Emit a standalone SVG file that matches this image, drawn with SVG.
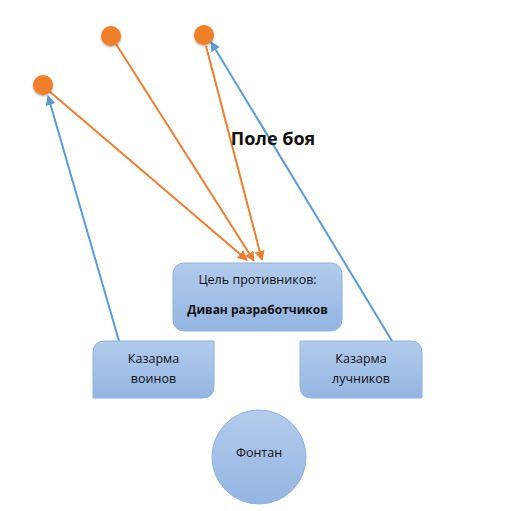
<svg xmlns="http://www.w3.org/2000/svg" width="512" height="511" viewBox="0 0 512 511">
<style>
.box{fill:url(#g);stroke:#8fb3e0;stroke-width:1}
.t{font-family:"Open Sans","Liberation Sans",sans-serif;fill:#111;text-anchor:middle}
.o{stroke:#ED7D31;stroke-width:2;fill:none}
.b{stroke:#5B9BD5;stroke-width:2;fill:none}
.dot{fill:#F07F2A;filter:url(#sh)}
</style>
<defs>
<linearGradient id="g" x1="0" y1="0" x2="0" y2="1">
<stop offset="0" stop-color="#b3cbec"/>
<stop offset="1" stop-color="#93b5e1"/>
</linearGradient>
<filter id="sh" x="-50%" y="-50%" width="200%" height="200%">
<feGaussianBlur in="SourceAlpha" stdDeviation="1.2"/>
<feOffset dx="0" dy="0.5"/>
<feComponentTransfer><feFuncA type="linear" slope="0.4"/></feComponentTransfer>
<feMerge><feMergeNode/><feMergeNode in="SourceGraphic"/></feMerge>
</filter>
<marker id="ao" viewBox="0 0 10 10" refX="9" refY="5" markerWidth="5" markerHeight="5" orient="auto" markerUnits="strokeWidth">
<path d="M0,0 L10,5 L0,10 z" fill="#ED7D31"/>
</marker>
<marker id="ab" viewBox="0 0 10 10" refX="9" refY="5" markerWidth="5" markerHeight="5" orient="auto" markerUnits="strokeWidth">
<path d="M0,0 L10,5 L0,10 z" fill="#5B9BD5"/>
</marker>
</defs>

<g id="connectors">
<line class="o" x1="49" y1="91" x2="247" y2="260" marker-end="url(#ao)"/>
<line class="o" x1="116" y1="44" x2="254" y2="261" marker-end="url(#ao)"/>
<line class="o" x1="206" y1="46" x2="262" y2="260" marker-end="url(#ao)"/>
<line class="b" x1="119" y1="341" x2="48" y2="96" marker-end="url(#ab)"/>
<line class="b" x1="392" y1="341" x2="211" y2="42" marker-end="url(#ab)"/>
</g>

<g id="enemy1"><circle class="dot" cx="111" cy="36" r="10"/></g>
<g id="enemy2"><circle class="dot" cx="204" cy="35" r="10"/></g>
<g id="enemy3"><circle class="dot" cx="43" cy="85" r="10"/></g>

<g id="title"><text class="t" x="273" y="145" font-size="18" font-weight="bold">Поле боя</text></g>

<g id="target">
<rect class="box" x="173" y="263" width="169" height="68" rx="11"/>
<text class="t" x="257.5" y="284" font-size="12.5">Цель противников:</text>
<text class="t" x="257.5" y="314" font-size="12" font-weight="bold">Диван разработчиков</text>
</g>

<g id="warriors">
<path class="box" d="M105,341 H214 V386 Q214,398 202,398 H93 V353 Q93,341 105,341 Z"/>
<text class="t" x="153.5" y="363" font-size="12.5">Казарма</text>
<text class="t" x="153.5" y="383" font-size="12.5">воинов</text>
</g>

<g id="archers">
<path class="box" d="M300,341 H410 Q422,341 422,353 V398 H312 Q300,398 300,386 Z"/>
<text class="t" x="361" y="363" font-size="12.5">Казарма</text>
<text class="t" x="361" y="383" font-size="12.5">лучников</text>
</g>

<g id="fountain">
<circle class="box" cx="259" cy="457" r="47"/>
<text class="t" x="259" y="457" font-size="12.5">Фонтан</text>
</g>
</svg>
